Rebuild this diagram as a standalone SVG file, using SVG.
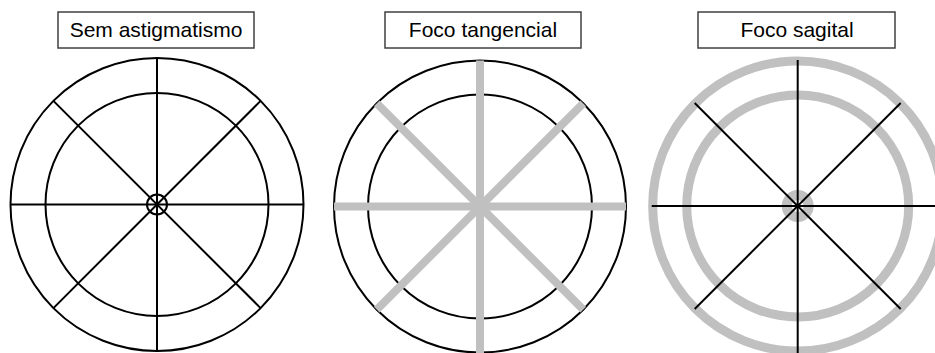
<svg xmlns="http://www.w3.org/2000/svg" width="935" height="353" viewBox="0 0 935 353">
<style>
.bk{fill:none;stroke:#000;stroke-width:2}
.gr{fill:none;stroke:#c0c0c0;stroke-width:8}
.gr2{fill:none;stroke:#c0c0c0;stroke-width:9}
.box{fill:#fff;stroke:#404040;stroke-width:1.5}
.lbl{font-family:"Liberation Sans",Arial,sans-serif;font-size:21px;fill:#000;text-anchor:middle}
</style>
<rect width="935" height="353" fill="#fff"/>
<g id="panel1">
<rect class="box" x="58" y="12" width="196" height="36"/>
<text class="lbl" x="156" y="37">Sem astigmatismo</text>
<g transform="translate(157,204.5)">
<circle class="bk" r="146.5"/>
<circle class="bk" r="111.5"/>
<circle class="bk" r="10"/>
<line class="bk" x1="-146.5" y1="0" x2="146.5" y2="0"/>
<line class="bk" x1="0" y1="-146.5" x2="0" y2="146.5"/>
<line class="bk" x1="-103.6" y1="-103.6" x2="103.6" y2="103.6"/>
<line class="bk" x1="-103.6" y1="103.6" x2="103.6" y2="-103.6"/>
</g>
</g>
<g id="panel2">
<rect class="box" x="385" y="12" width="196" height="36"/>
<text class="lbl" x="483" y="37">Foco tangencial</text>
<g transform="translate(480,206.5)">
<circle class="bk" r="146"/>
<circle class="bk" r="112"/>
<line class="gr" x1="-146" y1="0" x2="146" y2="0"/>
<line class="gr" x1="0" y1="-146" x2="0" y2="147"/>
<line class="gr" x1="-103.2" y1="-103.2" x2="103.2" y2="103.2"/>
<line class="gr" x1="-103.2" y1="103.2" x2="103.2" y2="-103.2"/>
</g>
</g>
<g id="panel3">
<rect class="box" x="698" y="12" width="197" height="36"/>
<text class="lbl" x="797" y="37">Foco sagital</text>
<g transform="translate(797.7,206)">
<circle class="gr2" r="145"/>
<circle class="gr2" r="111"/>
<circle fill="none" stroke="#c0c0c0" stroke-width="10" r="11"/>
<line class="bk" x1="-146" y1="0" x2="146" y2="0"/>
<line class="bk" x1="0" y1="-146" x2="0" y2="147"/>
<line class="bk" x1="-103" y1="-103" x2="103" y2="103"/>
<line class="bk" x1="-103" y1="103" x2="103" y2="-103"/>
</g>
</g>
</svg>
